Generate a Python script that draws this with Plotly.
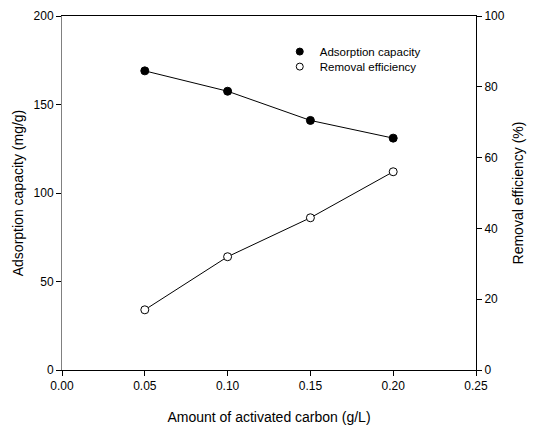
import plotly.graph_objects as go

dose = [0.05, 0.10, 0.15, 0.20]
adsorption = [169, 157.5, 141, 131]
removal = [17, 32, 43, 56]

x_ticks = [0.00, 0.05, 0.10, 0.15, 0.20, 0.25]
x_ticklabels = ["0.00", "0.05", "0.10", "0.15", "0.20", "0.25"]

FONT = "Liberation Sans, Arial, sans-serif"

filled = dict(symbol="circle", size=8, color="black", line=dict(color="black", width=1))
hollow = dict(symbol="circle", size=8, color="white", line=dict(color="black", width=1))
filled_key = dict(symbol="circle", size=7, color="black", line=dict(color="black", width=1))
hollow_key = dict(symbol="circle", size=7, color="white", line=dict(color="black", width=1))

fig = go.Figure()
fig.add_trace(go.Scatter(
    x=dose, y=adsorption, name="Adsorption capacity", mode="lines+markers",
    line=dict(color="black", width=1), marker=filled, yaxis="y", showlegend=False))
fig.add_trace(go.Scatter(
    x=dose, y=removal, name="Removal efficiency", mode="lines+markers",
    line=dict(color="black", width=1), marker=hollow, yaxis="y2", showlegend=False))
# legend entries (markers only, as in the reference key)
fig.add_trace(go.Scatter(
    x=[None], y=[None], name="Adsorption capacity", mode="markers",
    marker=filled_key, yaxis="y", legend="legend"))
fig.add_trace(go.Scatter(
    x=[None], y=[None], name="Removal efficiency", mode="markers",
    marker=hollow_key, yaxis="y2", legend="legend2"))

legend_common = dict(xanchor="left", yanchor="top", bgcolor="rgba(0,0,0,0)",
                     font=dict(size=11.5, family=FONT))

fig.update_layout(
    width=534, height=427,
    margin=dict(l=61.5, r=58, t=16, b=57),
    paper_bgcolor="white", plot_bgcolor="white",
    font=dict(family=FONT, color="black", size=12),
    showlegend=True,
    legend=dict(x=0.526, y=0.9405, **legend_common),
    legend2=dict(x=0.526, y=0.898, **legend_common),
    xaxis=dict(range=[0, 0.25], tickvals=x_ticks, ticktext=x_ticklabels,
               showgrid=False, zeroline=False, showline=True, linecolor="black",
               linewidth=1, mirror=True, ticks="outside", ticklen=5, tickcolor="black",
               tickfont=dict(size=12), automargin=False,
               title=dict(text="Amount of activated carbon (g/L)", font=dict(size=14), standoff=19)),
    yaxis=dict(range=[0, 200], tickvals=[0, 50, 100, 150, 200],
               showgrid=False, zeroline=False, showline=True, linecolor="#808080",
               linewidth=1, ticks="outside", ticklen=5, tickcolor="black",
               tickfont=dict(size=12), automargin=False,
               title=dict(text="Adsorption capacity (mg/g)", font=dict(size=14), standoff=6)),
    yaxis2=dict(range=[0, 100], tickvals=[0, 20, 40, 60, 80, 100], overlaying="y", side="right",
                showgrid=False, zeroline=False, showline=True, linecolor="black",
                linewidth=1, ticks="outside", ticklen=5, tickcolor="black",
                tickfont=dict(size=12), automargin=False,
                title=dict(text="Removal efficiency (%)", font=dict(size=14), standoff=9)),
)

fig.write_html("out.html")
